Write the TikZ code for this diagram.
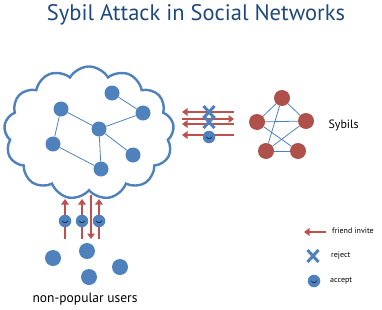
\documentclass[tikz,border=0pt]{standalone}
\usepackage{fontspec}
\setmainfont{PT Sans}
\usetikzlibrary{arrows.meta,shapes.symbols,shapes.misc,positioning}
\definecolor{userblue}{RGB}{79,129,189}
\definecolor{sybilred}{RGB}{176,80,74}
\definecolor{invitered}{RGB}{192,80,77}
\definecolor{titleblue}{RGB}{31,73,125}
\definecolor{smiledark}{RGB}{25,45,85}

\tikzset{
  user/.style={circle, fill=userblue, minimum size=15pt, inner sep=0pt},
  sybil/.style={circle, fill=sybilred, minimum size=16pt, inner sep=0pt},
  link/.style={userblue, line width=0.8pt},
  invite/.style={invitered, line width=2.8pt, -{Triangle[length=5.5pt,width=7.5pt]}},
  reject/.style={cross out, draw=userblue, line width=3pt, minimum width=8pt, minimum height=9pt, inner sep=0pt},
  accept/.style={circle, fill=userblue, minimum size=12.5pt, inner sep=0pt,
    path picture={\draw[smiledark, line width=0.7pt]
      ([xshift=-2.8pt,yshift=0.2pt]path picture bounding box.center)
      arc[start angle=200, end angle=340, radius=3pt];}},
  legendtext/.style={anchor=west, font=\fontsize{8}{10}\selectfont, inner sep=0pt}
}

\begin{document}
\begin{tikzpicture}[x=1pt, y=1pt]
  \useasboundingbox (0,0) rectangle (382,309);

  % Title
  \node[titleblue, font=\fontsize{22.5}{26}\selectfont] (title) at (196,294) {Sybil Attack in Social Networks};

  % Social network cloud
  \node[cloud, draw=userblue, line width=2.4pt, cloud puffs=13, cloud puff arc=120,
        minimum width=170pt, minimum height=133pt, aspect=1.3] (net) at (89,176) {};

  % Honest users
  \node[user] (uA) at (61,200) {};
  \node[user] (uB) at (112,216) {};
  \node[user] (uC) at (143,196) {};
  \node[user] (uD) at (99,180) {};
  \node[user] (uE) at (53,165) {};
  \node[user] (uF) at (133,154) {};
  \node[user] (uG) at (101,140) {};
  \foreach \a/\b in {A/D, A/E, B/C, C/D, D/F, D/G, E/G}
    \draw[link] (u\a) -- (u\b);

  % Sybils
  \node[sybil] (s1) at (282,211) {};
  \node[sybil] (s2) at (257,187) {};
  \node[sybil] (s3) at (306,188) {};
  \node[sybil] (s4) at (266,158) {};
  \node[sybil] (s5) at (298,158) {};
  \foreach \a/\b in {1/2, 1/3, 1/4, 2/3, 2/5, 3/4, 4/5}
    \draw[link] (s\a) -- (s\b);
  \node[anchor=west, font=\fontsize{12}{14}\selectfont] (sybils) at (325,184) {Sybils};

  % Invites between sybils and the network
  \foreach \i/\y in {1/197, 2/190, 3/185, 4/174} {
    \coordinate (hl\i) at (182,\y);
    \coordinate (hr\i) at (234,\y);
  }
  \draw[invite] (hr1) -- (hl1);
  \draw[invite] (hl2) -- (hr2);
  \draw[invite] (hr3) -- (hl3);
  \draw[invite] (hr4) -- (hl4);
  \node[reject] (rej1) at (209,197) {};
  \node[reject] (rej2) at (209,187) {};
  \node[accept] (acc1) at (209,172) {};

  % Non-popular users
  \node[user, minimum size=16pt] (n1) at (53,51) {};
  \node[user, minimum size=16pt] (n2) at (87,58) {};
  \node[user, minimum size=16pt] (n3) at (89,32) {};
  \node[user, minimum size=16pt] (n4) at (120,42) {};
  \node[font=\fontsize{13.5}{16}\selectfont] (nonpop) at (85,10) {non-popular users};

  % Invites between non-popular users and the network
  \foreach \i/\x in {1/65, 2/82, 3/99} {
    \coordinate (vb\i) at (\x,70);
    \coordinate (vt\i) at (\x,110);
    \draw[invite] (vb\i) -- (vt\i);
    \node[accept] (acc\i v) at (\x,88) {};
  }
  \coordinate (vt4) at (91,114);
  \coordinate (vb4) at (91,70);
  \draw[invite] (vt4) -- (vb4);

  % Legend
  \coordinate (legR) at (326,77);
  \coordinate (legL) at (304,77);
  \draw[invite] (legR) -- (legL);
  \node[legendtext] (leginv) at (332,78) {friend invite};
  \node[reject] (legrej) at (313,53) {};
  \node[legendtext] (legrejt) at (331,53) {reject};
  \node[accept] (legacc) at (314,28) {};
  \node[legendtext] (legacct) at (330,28) {accept};
\end{tikzpicture}
\end{document}
